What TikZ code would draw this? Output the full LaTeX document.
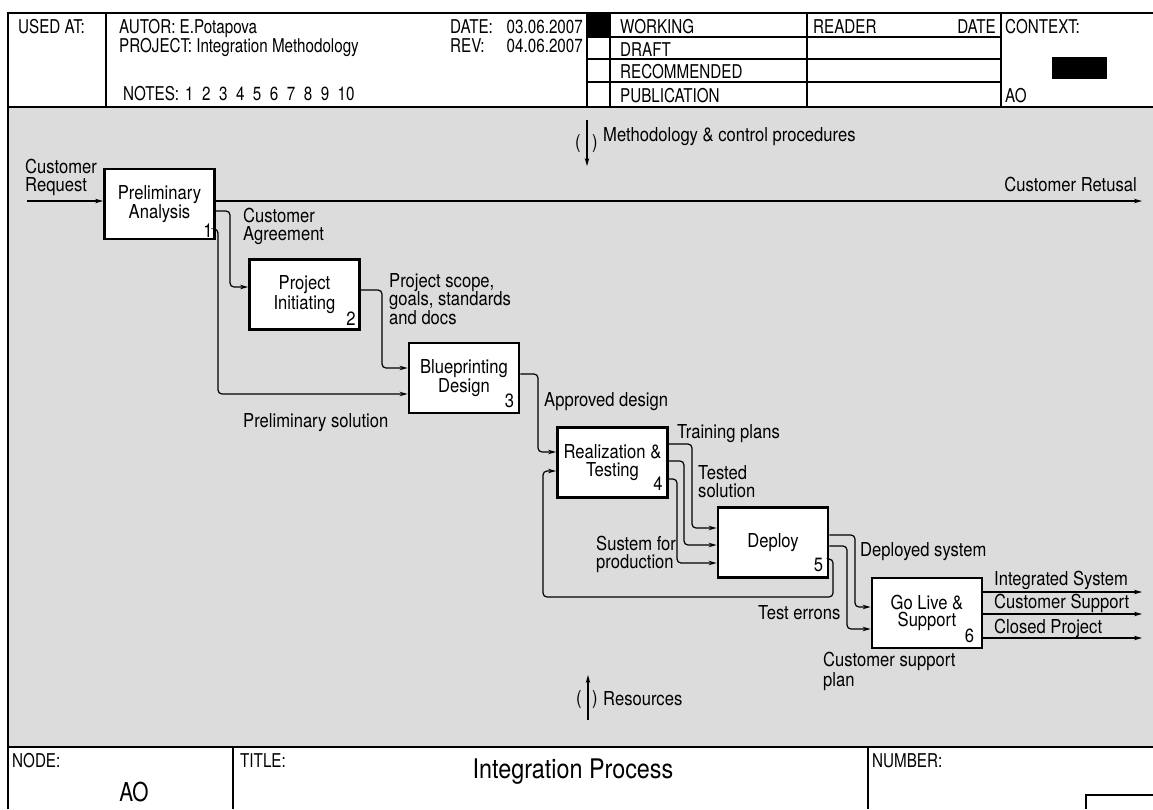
\documentclass[tikz,border=0pt]{standalone}
\usepackage{fontspec}
\setmainfont[FakeStretch=0.865]{TeX Gyre Heros}
\newfontfamily\hdrfont[FakeStretch=0.8]{TeX Gyre Heros}
\usetikzlibrary{arrows.meta,calc}
\definecolor{canvas}{RGB}{220,220,220}
\newcommand\lblfont{\fontsize{19.2}{17.5}\selectfont}
\newcommand\nsp{\hspace{8.5pt}}
\tikzset{
  frameline/.style={line width=2.8pt},
  rule/.style={line width=1.2pt},
  hdr/.style={anchor=base west, inner sep=0pt, font=\hdrfont\fontsize{19}{19}\selectfont},
  act/.style={draw, fill=white, line width=2.8pt, minimum width=110pt,
    minimum height=70pt, inner sep=0pt, align=center, font=\lblfont},
  flow/.style={line width=1.2pt, rounded corners=4pt,
    -{Stealth[length=8pt,width=4.5pt]}},
  plain/.style={line width=1.2pt, -{Stealth[length=8pt,width=4.5pt]}},
  lbl/.style={anchor=base west, inner sep=0pt, align=left, font=\lblfont},
  num/.style={anchor=base east, inner sep=0pt, font=\lblfont},
}
\begin{document}
\begin{tikzpicture}[x=1pt,y=-1pt]
\useasboundingbox (0,0) rectangle (1153,809);
\fill[white] (0,0) rectangle (1153,809);

% diagram area
\fill[canvas] (8,107) rectangle (1153,747);

% ---------- header form ----------
\fill (587,13) rectangle (610,37);
\draw[rule] (106,13) -- (106,107);
\foreach \xx in {587,610,807,1001} \draw[rule] (\xx,13) -- (\xx,107);
\draw[rule] (587,37) -- (1001,37);
\draw[rule] (587,59) -- (1001,59);
\draw[line width=2pt] (587,82) -- (1001,82);
\fill (1052,57) rectangle (1107,79);
\draw[line width=2pt] (8,107) -- (1153,107);

\node[hdr] (usedat) at (18,33) {USED AT:};
\node[hdr] (autor) at (119,33) {AUTOR: E.Potapova};
\node[hdr] (project) at (119,52) {PROJECT: Integration Methodology};
\node[hdr] (notes) at (123,100) {NOTES:\hspace{6pt}1\nsp2\nsp3\nsp4\nsp5\nsp6\nsp7\nsp8\nsp9\nsp10};
\node[hdr] (datek) at (450,33) {DATE:};
\node[hdr,anchor=base east] (datev) at (583,33) {03.06.2007};
\node[hdr] (revk) at (450,52) {REV:};
\node[hdr,anchor=base east] (revv) at (583,52) {04.06.2007};
\node[hdr] (working) at (620,33) {WORKING};
\node[hdr] (draft) at (620,56) {DRAFT};
\node[hdr] (recomm) at (620,78) {RECOMMENDED};
\node[hdr] (publ) at (620,102) {PUBLICATION};
\node[hdr] (reader) at (813,33) {READER};
\node[hdr,anchor=base east] (rdate) at (996,33) {DATE};
\node[hdr] (context) at (1005,33) {CONTEXT:};
\node[hdr] (ctxnode) at (1005,102) {AO};

% ---------- footer form ----------
\draw[line width=2pt] (8,747) -- (1153,747);
\draw[rule] (233,747) -- (233,809);
\draw[rule] (868,747) -- (868,809);
\draw[rule] (1086,809) -- (1086,795) -- (1153,795);
\node[hdr] (nodek) at (12,767) {NODE:};
\node[anchor=base, inner sep=0pt, font=\hdrfont\fontsize{26}{26}\selectfont] (nodev) at (134,801) {AO};
\node[hdr] (titlek) at (240,767) {TITLE:};
\node[anchor=base, inner sep=0pt, font=\fontsize{27}{27}\selectfont] (title) at (573,778) {Integration Process};
\node[hdr] (numberk) at (872,767) {NUMBER:};

% outer frame
\draw[frameline] (8,809) -- (8,13) -- (1153,13);

% ---------- activities ----------
\node[act] (b1) at (159.5,204) {Preliminary\\Analysis};
\node[act] (b2) at (304.5,294.5) {Project\\Initiating};
\node[act] (b3) at (464,378) {Blueprinting\\Design};
\node[act] (b4) at (612.5,462.5) {Realization \&\\Testing};
\node[act] (b5) at (773,542.5) {Deploy};
\node[act] (b6) at (927,613) {Go Live \&\\Support};

\node[num] (n1) at ($(b1.south east)+(-3,-3)$) {1};
\node[num] (n2) at ($(b2.south east)+(-5,-5)$) {2};
\node[num] (n3) at ($(b3.south east)+(-6,-7)$) {3};
\node[num] (n4) at ($(b4.south east)+(-6,-8)$) {4};
\node[num] (n5) at ($(b5.south east)+(-6,-7)$) {5};
\node[num] (n6) at ($(b6.south east)+(-9,-7)$) {6};

% free ends of the boundary arrows
\coordinate (reqin) at (27,201);
\coordinate (refusal) at (1142,201);
\coordinate (ctrltop) at (587,120);
\coordinate (ctrltip) at (587,166);
\coordinate (restail) at (588,720);
\coordinate (restip) at (588,675);
\coordinate (outsys) at (1142,592);
\coordinate (outsup) at (1142,614);
\coordinate (outclose) at (1142,638);

% ---------- connectors ----------
\draw[plain] (reqin) -- (reqin -| b1.west);
\draw[plain] (reqin -| b1.east) -- (refusal);
\draw[flow] (b1.east |- 0,211) -- (230,211) -- (230,287) -- (b2.west |- 0,287);
\draw[flow] (b1.east |- 0,229) -- (218,229) -- (218,394) -- (b3.west |- 0,394);
\draw[flow] (b2.east |- 0,290) -- (382,290) -- (382,368) -- (b3.west |- 0,368);
\draw[flow] (b3.east |- 0,374) -- (538,374) -- (538,452) -- (b4.west |- 0,452);
\draw[flow] (b4.east |- 0,444) -- (692,444) -- (692,528) -- (b5.west |- 0,528);
\draw[flow] (b4.east |- 0,461) -- (684,461) -- (684,545) -- (b5.west |- 0,545);
\draw[flow] (b4.east |- 0,479) -- (677,479) -- (677,563) -- (b5.west |- 0,563);
\draw[flow] (b5.east |- 0,559) -- (833,559) -- (833,597) -- (543,597) -- (543,471) -- (b4.west |- 0,471);
\draw[flow] (b5.east |- 0,535) -- (855,535) -- (855,607) -- (b6.west |- 0,607);
\draw[flow] (b5.east |- 0,546) -- (847,546) -- (847,629) -- (b6.west |- 0,629);
\draw[plain] (b6.east |- outsys) -- (outsys);
\draw[plain] (b6.east |- outsup) -- (outsup);
\draw[plain] (b6.east |- outclose) -- (outclose);
\draw[plain] (ctrltop) -- (ctrltip);
\draw[plain] (restail) -- (restip);

% ---------- labels (base = last line) ----------
\node[lbl] (lreq) at (25,191) {Customer\\Request};
\node[lbl,anchor=base east] (lref) at (1137,191) {Customer Retusal};
\node[lbl] (lagr) at (243,240) {Customer\\Agreement};
\node[lbl,font=\fontsize{19.2}{18.2}\selectfont] (lscope) at (389,324) {Project scope,\\goals, standards\\and docs};
\node[lbl] (lprel) at (243,427) {Preliminary solution};
\node[lbl] (lappr) at (544,406) {Approved design};
\node[lbl] (ltrain) at (677,438) {Training plans};
\node[lbl] (ltest) at (698,497) {Tested\\solution};
\node[lbl] (lprod) at (596,568) {Sustem for\\production};
\node[lbl] (ldepl) at (860,556) {Deployed system};
\node[lbl] (lerr) at (758,619) {Test errons};
\node[lbl] (lplan) at (823,686) {Customer support\\plan};
\node[lbl] (lsys) at (994,585) {Integrated System};
\node[lbl] (lsup) at (994,608) {Customer Support};
\node[lbl] (lclose) at (994,633) {Closed Project};
\node[lbl] (pl1) at (575,148) {(};
\node[lbl] (pr1) at (592,148) {)};
\node[lbl] (lctrl) at (603,141) {Methodology \& control procedures};
\node[lbl] (pl2) at (576,704) {(};
\node[lbl] (pr2) at (592,704) {)};
\node[lbl] (lres) at (603,705) {Resources};
\end{tikzpicture}
\end{document}
